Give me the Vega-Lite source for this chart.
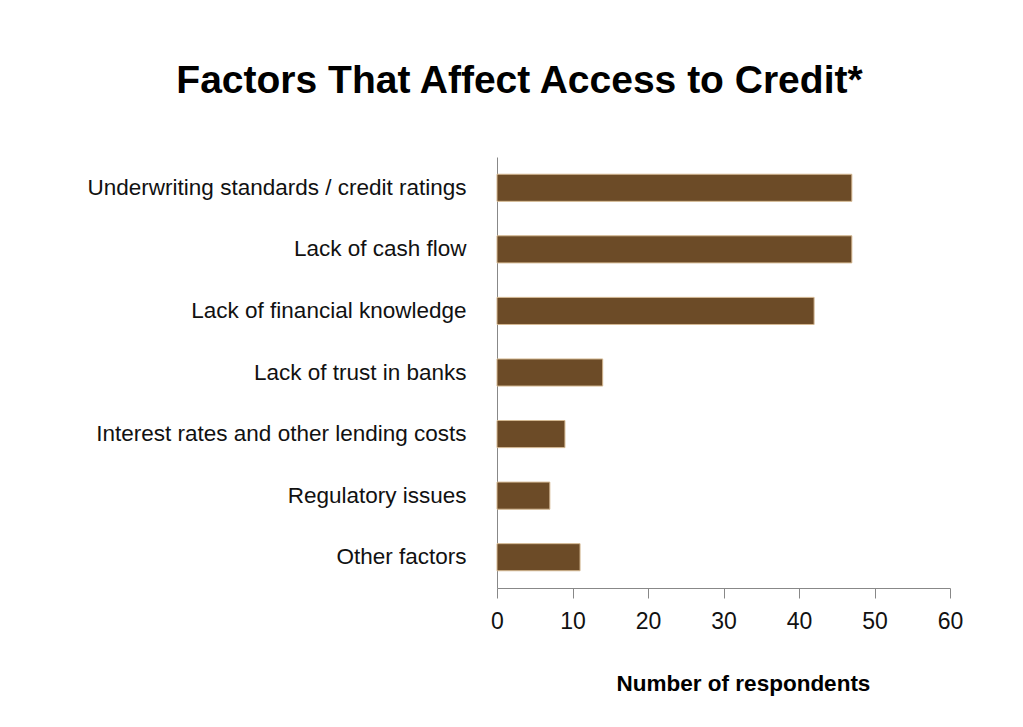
{
  "$schema": "https://vega.github.io/schema/vega-lite/v6.json",
  "autosize": "none",
  "width": 453,
  "height": 431,
  "padding": {"left": 497, "top": 157, "right": 73, "bottom": 139},
  "background": "white",
  "config": {"view": {"stroke": null}, "font": "Liberation Sans"},
  "title": {
    "text": "Factors That Affect Access to Credit*",
    "fontSize": 39,
    "fontWeight": "bold",
    "font": "Liberation Sans",
    "color": "#000000",
    "anchor": "middle",
    "frame": "group",
    "baseline": "alphabetic",
    "dx": -204,
    "offset": 25
  },
  "data": {
    "values": [
      {"factor": "Underwriting standards / credit ratings", "respondents": 47},
      {"factor": "Lack of cash flow", "respondents": 47},
      {"factor": "Lack of financial knowledge", "respondents": 42},
      {"factor": "Lack of trust in banks", "respondents": 14},
      {"factor": "Interest rates and other lending costs", "respondents": 9},
      {"factor": "Regulatory issues", "respondents": 7},
      {"factor": "Other factors", "respondents": 11}
    ]
  },
  "mark": {"type": "bar", "color": "#6C4B27", "stroke": "#D4B892", "strokeWidth": 1},
  "encoding": {
    "y": {
      "field": "factor",
      "type": "nominal",
      "sort": null,
      "scale": {"paddingInner": 0.56, "paddingOuter": 0.28},
      "axis": {
        "title": null,
        "ticks": false,
        "labelFontSize": 22.5,
        "labelColor": "#111111",
        "labelPadding": 31,
        "labelLimit": 500,
        "domainColor": "#888888",
        "domainWidth": 1
      }
    },
    "x": {
      "field": "respondents",
      "type": "quantitative",
      "scale": {"domain": [0, 60]},
      "axis": {
        "title": "Number of respondents",
        "values": [0, 10, 20, 30, 40, 50, 60],
        "grid": false,
        "tickSize": 10,
        "tickColor": "#888888",
        "domainColor": "#888888",
        "labelFontSize": 23,
        "labelColor": "#111111",
        "labelPadding": 12,
        "labelFlush": false,
        "titleFontSize": 22.5,
        "titleFontWeight": "bold",
        "titleColor": "#000000",
        "titleX": 246,
        "titleY": 102,
        "titleBaseline": "alphabetic"
      }
    }
  }
}
